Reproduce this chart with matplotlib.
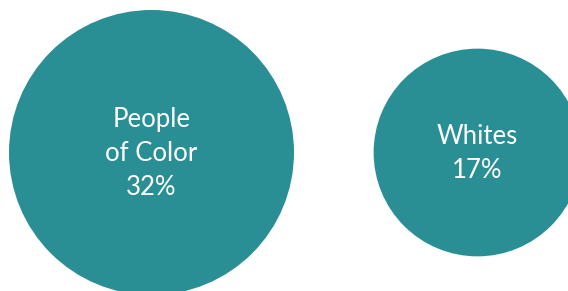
import matplotlib
matplotlib.use("Agg")
import matplotlib.pyplot as plt
from matplotlib.patches import Circle
import numpy as np

categories = ["People\nof Color", "Whites"]
values = [32, 17]
labels = ["People\nof Color\n32%", "Whites\n17%"]

W, H = 568, 291
fig = plt.figure(figsize=(W / 100, H / 100), dpi=100)
ax = fig.add_axes([0, 0, 1, 1])
ax.set_xlim(0, W)
ax.set_ylim(H, 0)
ax.axis("off")

color = "#298f95"
k = 142.5 / np.sqrt(32)
centers_x = [151.5, 477.5]
cy = 152.5
for x, v, lab in zip(centers_x, values, labels):
    r = k * np.sqrt(v)
    ax.add_patch(Circle((x, cy), r, facecolor=color, edgecolor="none"))
    ax.text(x, cy + 1, lab, ha="center", va="center", color="white",
            fontsize=18.5, family="Lato", fontweight="normal", linespacing=1.45)

fig.savefig("out.png", dpi=100)
